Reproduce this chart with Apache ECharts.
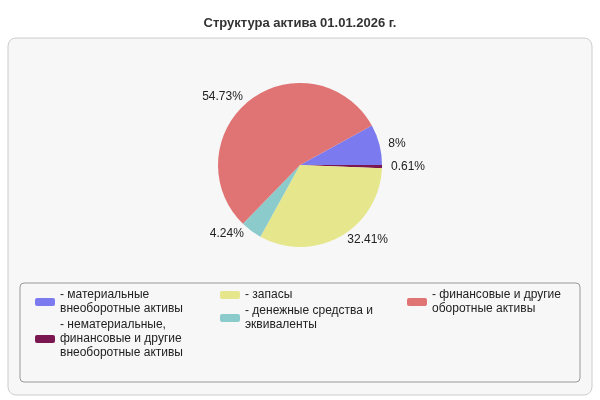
<!DOCTYPE html>
<html><head><meta charset="utf-8">
<script src="https://cdn.jsdelivr.net/npm/echarts@6/dist/echarts.min.js"></script>
<style>html,body{margin:0;padding:0;background:#fff}#c{width:600px;height:400px}</style>
</head><body><div id="c"></div>
<script>
const categories = [
  "- материальные\nвнеоборотные активы",
  "- нематериальные,\nфинансовые и другие\nвнеоборотные активы",
  "- запасы",
  "- денежные средства и\nэквиваленты",
  "- финансовые и другие\nоборотные активы"
];
const values = [8, 0.61, 32.41, 4.24, 54.73];
const valueLabels = ["8%", "0.61%", "32.41%", "4.24%", "54.73%"];
const colors = ["#7b7bef", "#7a1650", "#e6e68c", "#8ccbcb", "#e07474"];

const chart = echarts.init(document.getElementById('c'));
const legendBase = {
  orient: 'vertical', itemWidth: 20, itemHeight: 8, itemGap: 2,
  icon: 'roundRect',
  textStyle: {fontSize: 12, color: '#222', fontFamily: 'Arial, Liberation Sans', lineHeight: 14}
};
chart.setOption({
  color: colors,
  title: {text: 'Структура актива 01.01.2026 г.', left: 'center', top: 12,
    textStyle: {fontSize: 13, fontWeight: 'bold', color: '#333', fontFamily: 'Arial, Liberation Sans'}},
  graphic: [
    {type: 'rect', shape: {x: 8, y: 38, width: 584, height: 357, r: 8}, z: -10,
     style: {fill: '#f7f7f7', stroke: '#cccccc', lineWidth: 1}},
    {type: 'rect', shape: {x: 20, y: 283, width: 560, height: 99, r: 4}, z: -9,
     style: {fill: '#f7f7f7', stroke: '#999999', lineWidth: 1}}
  ],
  legend: [
    Object.assign({left: 30, top: 283, data: [categories[0], categories[1]]}, legendBase),
    Object.assign({left: 215, top: 283, data: [categories[2], categories[3]]}, legendBase),
    Object.assign({left: 402, top: 283, data: [categories[4]]}, legendBase)
  ],
  series: [{
    type: 'pie', center: [300, 165], radius: 82, startAngle: 28.8,
    data: categories.map((n, i) => ({name: n, value: values[i],
      label: {formatter: valueLabels[i]}})),
    label: {show: true, position: 'outside', fontSize: 12, color: '#222',
      fontFamily: 'Arial, Liberation Sans'},
    labelLine: {show: false, length: 4, length2: 0},
    emphasis: {disabled: true}
  }]
});
</script></body></html>
